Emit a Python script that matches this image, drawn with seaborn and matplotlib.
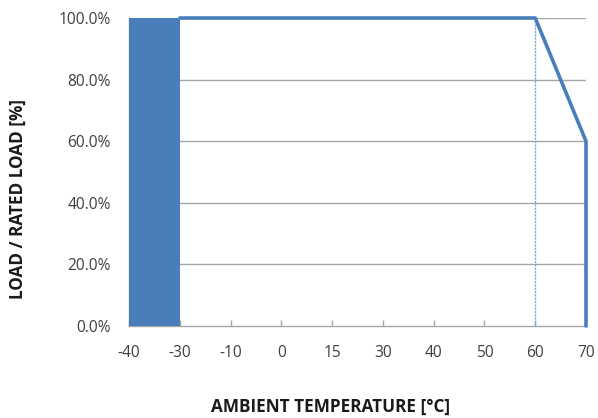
import matplotlib
matplotlib.use("Agg")
import matplotlib.pyplot as plt
import seaborn as sns
import pandas as pd
import numpy as np

# Data
temps = ["-40", "-30", "-10", "0", "15", "30", "40", "50", "60", "70"]
curve_temps = ["-30", "-10", "0", "15", "30", "40", "50", "60", "70", "70"]
curve_load = [1.0, 1.0, 1.0, 1.0, 1.0, 1.0, 1.0, 1.0, 0.6, 0.0]
fill_temps = ["-40", "-30"]
fill_load = [1.0, 1.0]
marker_temp = "60"
marker_load = [0.0, 1.0]
yticks = [0.0, 0.2, 0.4, 0.6, 0.8, 1.0]

BLUE = "#4A7EBB"
GRID = "#A6A6A6"

sns.set_theme(style="white")
plt.rcParams["font.family"] = ["Open Sans", "DejaVu Sans"]

fig = plt.figure(figsize=(5.98, 4.18), dpi=100)
ax = fig.add_axes([129/598, 1-326/418, (586-129)/598, (326-18)/418])

pos = {t: i for i, t in enumerate(temps)}
df = pd.DataFrame({"x": [pos[t] for t in curve_temps], "y": curve_load,
                   "order": np.arange(len(curve_load))})

# filled region
fx = [pos[t] for t in fill_temps]
ax.fill_between(fx, 0, fill_load, color=BLUE, linewidth=0, zorder=3)

# dotted marker line at 60
ax.plot([pos[marker_temp]]*2, marker_load, color="#7FA6D6", lw=1.0,
        ls=(0, (1.6, 0.8)), zorder=3, clip_on=False)

# derating curve
sns.lineplot(data=df, x="x", y="y", sort=False, estimator=None,
             color=BLUE, lw=2.6, ax=ax, zorder=4)
for ln in ax.get_lines():
    ln.set_clip_on(False)

ax.set_xlim(0, len(temps) - 1)
ax.set_ylim(0, 1.0)
ax.set_xticks(range(len(temps)))
ax.set_xticklabels(temps)
ax.set_yticks(yticks)
ax.set_yticklabels([f"{v*100:.1f}%" for v in yticks])
ax.set_xlabel("")
ax.set_ylabel("")

for v in yticks[1:]:
    ax.axhline(v, color=GRID, lw=1.0, zorder=1)

for s in ["top", "right"]:
    ax.spines[s].set_visible(False)
for s in ["left", "bottom"]:
    ax.spines[s].set_color(GRID)
    ax.spines[s].set_linewidth(1.0)

ax.tick_params(axis="x", direction="in", length=4, width=1, color=GRID,
               pad=14, labelsize=11.2, labelcolor="#404040", bottom=True)
ax.tick_params(axis="y", length=0, pad=13, labelsize=11.2, labelcolor="#404040")

fig.text(331/598, 1-407/418, "AMBIENT TEMPERATURE [°C]", ha="center", va="center",
         fontsize=12.3, fontweight="bold", color="#1a1a1a")
fig.text(18/598, 1-199/418, "LOAD / RATED LOAD [%]", ha="center", va="center",
         rotation=90, fontsize=12.3, fontweight="bold", color="#1a1a1a")

fig.savefig("out.png", dpi=100)
